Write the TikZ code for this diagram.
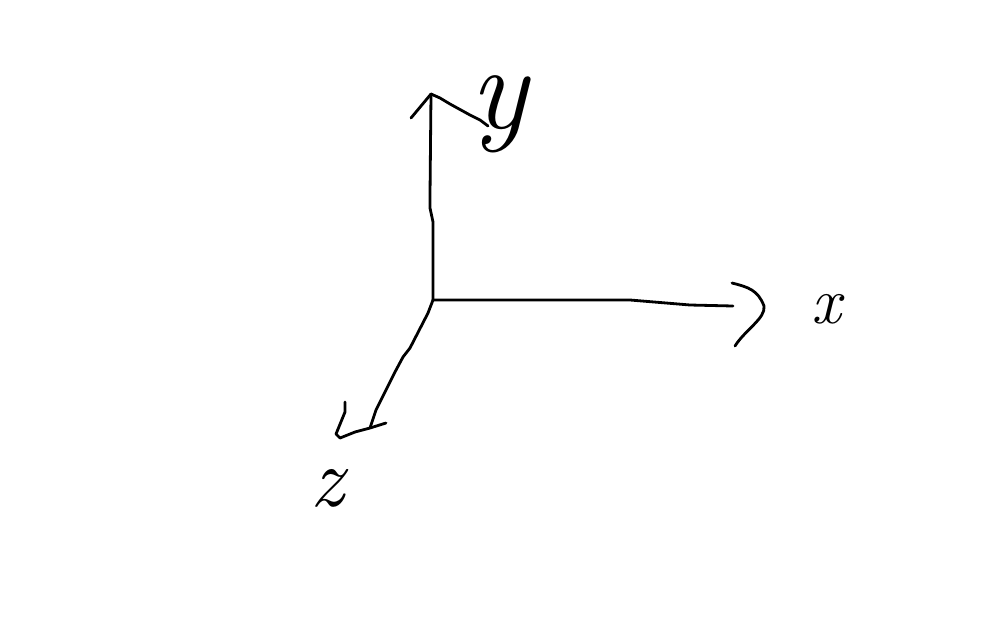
\documentclass[tikz,border=0pt]{standalone}
\usepackage{fontspec}
\begin{document}
\begin{tikzpicture}[x=1pt,y=-1pt,
  stroke/.style={line width=2.8pt,line cap=round,line join=round,black},
  lab/.style={inner sep=0pt,text=black}]
\useasboundingbox[fill=white] (0,0) rectangle (1008,630);
% origin and axis ends
\coordinate (o) at (433,300);
\coordinate (ytop) at (431,94);
\coordinate (xend) at (733,306);
\coordinate (zend) at (370,428);
% y axis
\draw[stroke] (o) -- (433,222) -- (430,208) -- (430,195) -- (ytop);
\draw[stroke] (411,118) -- (ytop);
\draw[stroke] (ytop) -- (440,98) -- (450,104) -- (470,115) -- (480,120) -- (488,126);
% x axis
\draw[stroke] (o) -- (630,300) -- (690,305) -- (xend);
\draw[stroke] (732,283) .. controls (748,287) and (758,290) .. (764,306)
  .. controls (766,318) and (745,330) .. (735,346);
% z axis
\draw[stroke] (o) -- (428,313) -- (410,348) -- (403,357) -- (395,372) -- (376,410) -- (zend);
\draw[stroke] (345,402) -- (345,412) -- (336,434) -- (340,438) -- (355,432) -- (zend) -- (386,423);
% labels
\node[lab,font=\fontsize{120}{120}\selectfont\itshape] (ly) at (499,114) {y};
\node[lab,font=\fontsize{66}{66}\selectfont\itshape] (lx) at (826,309) {x};
\node[lab,font=\fontsize{84}{84}\selectfont\itshape] (lz) at (327,488) {z};
\end{tikzpicture}
\end{document}
